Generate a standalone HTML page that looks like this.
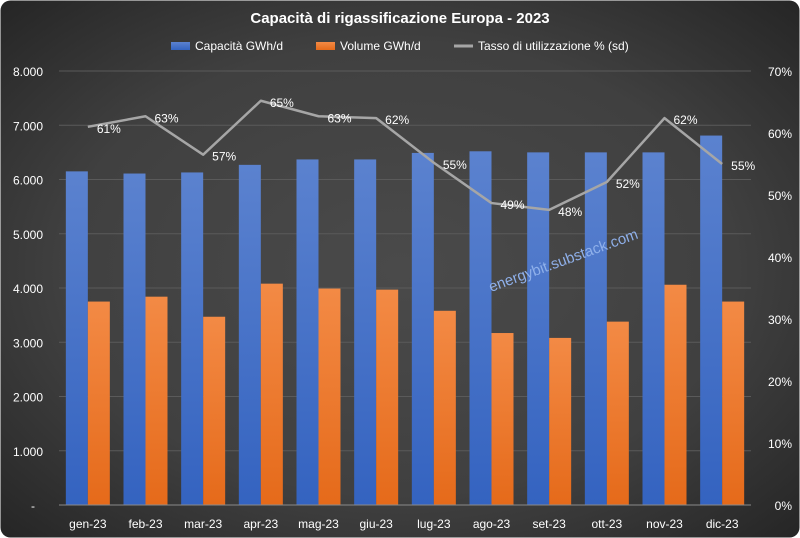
<!DOCTYPE html>
<html><head><meta charset="utf-8"><style>
html,body{margin:0;padding:0;background:#fff;}
svg{display:block;font-family:"Liberation Sans",sans-serif;}
</style></head><body>
<svg id="chart" width="800" height="538">
<defs>
<radialGradient id="bg" cx="50%" cy="50%" r="70%">
<stop offset="0" stop-color="#4a4a4a"/><stop offset="0.6" stop-color="#404040"/><stop offset="1" stop-color="#262626"/>
</radialGradient>
<linearGradient id="gb" x1="0" y1="0" x2="0" y2="1"><stop offset="0" stop-color="#5b82cf"/><stop offset="1" stop-color="#3463c0"/></linearGradient>
<linearGradient id="go" x1="0" y1="0" x2="0" y2="1"><stop offset="0" stop-color="#f38a45"/><stop offset="1" stop-color="#e56a1a"/></linearGradient>
</defs>
<rect x="0.5" y="0.5" width="799" height="537" rx="10" fill="url(#bg)"/>
<text x="400" y="23" text-anchor="middle" fill="#fff" font-size="15" font-weight="bold">Capacità di rigassificazione Europa  - 2023</text>
<g>
<rect x="171" y="42" width="19" height="8" fill="url(#gb)"/>
<text x="195" y="50" fill="#fff" font-size="12">Capacità GWh/d</text>
<rect x="316" y="42" width="19" height="8" fill="url(#go)"/>
<text x="340" y="50" fill="#fff" font-size="12">Volume GWh/d</text>
<line x1="454" y1="46" x2="473" y2="46" stroke="#a6a6a6" stroke-width="3"/>
<text x="478" y="50" fill="#fff" font-size="12">Tasso di utilizzazione % (sd)</text>
</g>
<g id="grid"></g><g id="bars"></g><g id="line"></g><g id="axes"></g>
<text x="565" y="265" text-anchor="middle" fill="#8fb0ea" font-size="15" transform="rotate(-20 565 265)">energybit.substack.com</text>
</svg>
<script>
const categories=["gen-23","feb-23","mar-23","apr-23","mag-23","giu-23","lug-23","ago-23","set-23","ott-23","nov-23","dic-23"];
const capacita=[6150,6110,6130,6270,6370,6370,6490,6520,6500,6500,6500,6810];
const volume=[3750,3840,3470,4080,3990,3970,3580,3170,3080,3380,4060,3750];
const tasso=[61.0,62.7,56.5,65.2,62.7,62.4,55.2,48.7,47.6,52.1,62.4,55.0];
const leftTicks=["-","1.000","2.000","3.000","4.000","5.000","6.000","7.000","8.000"];
const rightTicks=["0%","10%","20%","30%","40%","50%","60%","70%"];
const NS="http://www.w3.org/2000/svg";
const L=59,R=751,T=71,B=505;
const bw=(R-L)/categories.length;
const xc=i=>L+bw*(i+0.5);
const yL=v=>B-(v/8000)*(B-T);
const yR=v=>B-(v/70)*(B-T);
function mk(tag,attrs,parent,txt){const e=document.createElementNS(NS,tag);for(const k in attrs)e.setAttribute(k,attrs[k]);if(txt!==undefined)e.textContent=txt;document.getElementById(parent).appendChild(e);return e;}
leftTicks.forEach((t,i)=>{const y=yL(i*1000);
 if(i>0){const g=mk('line',{x1:L,x2:R,y1:y,y2:y,stroke:'#5a5a5a','stroke-width':1},'grid');
 
 }
 const tx=mk('text',{x:i==0?33:43,y:y+5,'text-anchor':i==0?'middle':'end',fill:'#fff','font-size':12},'axes',t);
 
 });
rightTicks.forEach((t,i)=>{const tx=mk('text',{x:792,y:yR(i*10)+5,'text-anchor':'end',fill:'#fff','font-size':12},'axes',t);
 
 });
const ax=mk('line',{x1:L,x2:R,y1:B,y2:B,stroke:'#8a8a8a','stroke-width':1},'axes');


categories.forEach((c,i)=>{const x=xc(i);
 const b1=mk('rect',{x:x-22,y:yL(capacita[i]),width:22,height:B-yL(capacita[i]),fill:'url(#gb)'},'bars');
 
 
 const b2=mk('rect',{x:x,y:yL(volume[i]),width:22,height:B-yL(volume[i]),fill:'url(#go)'},'bars');
 
 
 const tl=mk('text',{x:x,y:528,'text-anchor':'middle',fill:'#fff','font-size':12},'axes',c);
 
 });
const pts=tasso.map((v,i)=>xc(i)+','+yR(v)).join(' ');
const pl=mk('polyline',{points:pts,fill:'none',stroke:'#a6a6a6','stroke-width':2.5,'stroke-linejoin':'round'},'line');


tasso.forEach((v,i)=>{const lb=mk('text',{x:xc(i)+9,y:yR(v)+6,fill:'#fff','font-size':12},'line',Math.round(v)+'%');
 
 });
</script>
</body></html>
